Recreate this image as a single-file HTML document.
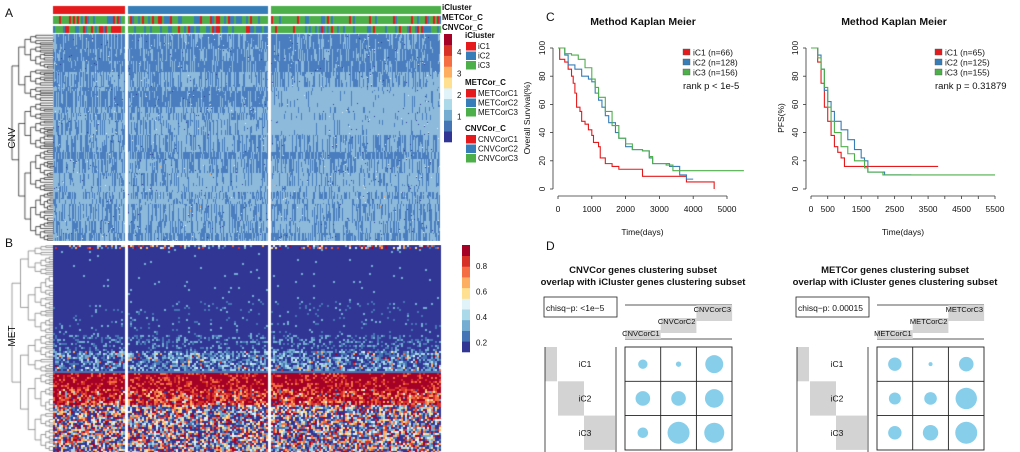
<!DOCTYPE html>
<html><head><meta charset="utf-8">
<style>
html,body{margin:0;padding:0;background:#fff;}
#wrap{position:relative;width:1020px;height:452px;overflow:hidden;font-family:"Liberation Sans",Arial,sans-serif;}
canvas,svg{position:absolute;left:0;top:0;}
</style></head>
<body>
<div id="wrap">
<canvas id="hm" width="1020" height="452"></canvas>
<svg id="sv" width="1020" height="452" xmlns="http://www.w3.org/2000/svg"></svg>
</div>
<script>
// ---------------- chart data ----------------
const osTicks=[0,1000,2000,3000,4000,5000];
const pfsTicks=[0,500,1000,1500,2000,2500,3000,3500,4000,4500,5000,5500];
const pfsTickLabels=["0","500","","1500","","2500","","3500","","4500","","5500"];
const yTicks=[0,20,40,60,80,100];
const osGroups=["iC1 (n=66)","iC2 (n=128)","iC3 (n=156)"];
const pfsGroups=["iC1 (n=65)","iC2 (n=125)","iC3 (n=155)"];
const osC1T=[0,50,200,300,400,450,500,550,650,700,800,900,1000,1050,1200,1250,1400,1600,1800,2500,3800,4620];
const osC1S=[100,92,90,85,80,75,68,58,55,48,46,42,38,33,30,22,18,16,14,9,5,0];
const osC2T=[0,200,300,500,700,900,1000,1100,1200,1300,1400,1500,1700,1800,2000,2200,2500,2700,2800,3300,3600,3800,4000];
const osC2S=[100,95,88,85,80,78,76,68,63,58,52,47,40,36,30,28,27,22,18,16,10,7,7];
const osC3T=[0,200,400,600,800,1000,1100,1200,1400,1600,1800,2000,2200,2500,2700,2800,3200,3400,5500];
const osC3S=[100,96,95,92,86,78,72,65,55,45,36,32,28,27,23,18,17,13,13];
const pfC1T=[0,150,200,300,400,500,600,700,800,900,1000,3800];
const pfC1S=[100,100,90,75,58,48,38,30,26,22,16,16];
const pfC2T=[0,200,300,400,500,600,700,900,1100,1300,1500,1600,1700,2200,3000];
const pfC2S=[100,95,85,70,62,55,48,42,35,28,22,20,12,10,10];
const pfC3T=[0,200,300,400,500,600,700,900,1100,1300,1600,1700,2150,5500];
const pfC3S=[100,93,85,72,58,48,40,30,25,20,15,12,10,10];
const rowLabels=["iC1","iC2","iC3"];
const cnvCols=["CNVCorC1","CNVCorC2","CNVCorC3"];
const metCols=["METCorC1","METCorC2","METCorC3"];
const cnvOverlap=[[4.7,2.7,9],[7.3,7.3,9.3],[5.3,11,10]];
const metOverlap=[[6.7,2,7.3],[6,6.3,10.7],[6.7,7.7,11]];
const palette=["#313695","#4575b4","#74add1","#abd9e9","#e0f3f8","#fee090","#fdae61","#f46d43","#d73027","#a50026"];
const cnvTickLabels=["4","3","2","1"];
const metTickLabels=["0.8","0.6","0.4","0.2"];
// ---------------- heatmaps (canvas, texture) ----------------
let seed=12345;function rnd(){seed=(seed*1103515245+12345)%2147483648;return seed/2147483648;}
const cv=document.getElementById('hm');const ctx=cv.getContext('2d');
const groupsX=[[53,125],[128,268],[271,440]];
const cols=[];groupsX.forEach((g,gi)=>{for(let x=g[0];x<g[1];x+=2)cols.push([x,gi]);});
const cl=["#e41a1c","#377eb8","#4daf4a"];
cols.forEach(([x,g])=>{
 ctx.fillStyle=cl[g];ctx.fillRect(x,6,2,8);
 let r=rnd();let c=g==0?(r<0.35?0:r<0.45?1:2):g==1?(r<0.2?0:r<0.45?1:2):(r<0.1?0:r<0.25?1:2);
 ctx.fillStyle=cl[c];ctx.fillRect(x,16,2,8);
 r=rnd();c=g==0?(r<0.3?0:r<0.4?1:2):g==1?(r<0.2?0:r<0.5?1:2):(r<0.1?0:r<0.35?1:2);
 ctx.fillStyle=cl[c];ctx.fillRect(x,26,2,7);
});
// CNV: blocky bands with vertical streaks
const dk="#4a7dbf",lt="#8dbadb";
const pixCols=[];groupsX.forEach((g,gi)=>{for(let x=g[0];x<g[1];x++)pixCols.push([x,gi]);});
let y=34;
while(y<241){
 const h=Math.min(241-y,4+Math.floor(rnd()*14));
 let p=y<60?0.2:y<80?0.35:y<135?0.45:y<165?0.4:y<210?0.7:0.55;
 p=Math.max(0.05,Math.min(0.95,p+(rnd()-0.5)*0.5));
 pixCols.forEach(([x,g])=>{
  let pp=p; if(g==2&&y>78&&y<135)pp=0.92;
  let state=rnd()<pp;
  for(let yy=y;yy<y+h;yy++){
   if(rnd()<0.08)state=rnd()<pp;
   let c=state?lt:dk;
   const q=rnd();
   if(q<0.004)c="#2c3d93";else if(q<0.006)c="#e0f3f8";else if(q<0.0075&&yy>165&&yy<215)c="#fdae61";
   ctx.fillStyle=c;ctx.fillRect(x,yy,1,1);
  }
 });
 y+=h;
}
// MET
for(let y=245;y<452;y+=2){
 cols.forEach(([x,g])=>{
  let q=rnd(),idx;
  if(y<248){idx=q<0.6?0:Math.floor(rnd()*10);}
  else if(y<300){idx=q<0.985?0:2;}
  else if(y<335){idx=q<0.93?0:(q<0.97?1:2);}
  else if(y<350){idx=q<0.7?0:q<0.85?1:2;}
  else if(y<370){idx=q<0.35?0:q<0.55?1:q<0.75?2:q<0.9?3:Math.floor(rnd()*10);}
  else if(y<372){idx=1;}
  else if(y<388){idx=q<0.7?9:q<0.85?8:7;}
  else if(y<405){idx=q<0.4?9:q<0.6?8:q<0.75?7:q<0.85?6:Math.floor(rnd()*10);}
  else {idx=Math.floor(rnd()*10);if(rnd()<0.2)idx=0;}
  ctx.fillStyle=palette[idx];ctx.fillRect(x,y,2,2);
 });
}
// dendrograms
function dendro(y0,y1,xl,xr,color,depth){
 ctx.strokeStyle=color;ctx.lineWidth=0.7;
 function rec(a,b,d){
  if(d==0||b-a<3){ctx.beginPath();ctx.moveTo(xr-2,(a+b)/2);ctx.lineTo(xr,(a+b)/2);ctx.stroke();return [(a+b)/2,xr-2];}
  const m=a+(b-a)*(0.3+rnd()*0.4);
  const L=rec(a,m,d-1),R=rec(m,b,d-1);
  const h=xr-(xr-xl)*Math.pow(d/depth,1.6)-2;
  ctx.beginPath();ctx.moveTo(L[1],L[0]);ctx.lineTo(h,L[0]);ctx.lineTo(h,R[0]);ctx.lineTo(R[1],R[0]);ctx.stroke();
  return [(L[0]+R[0])/2,h];
 }
 rec(y0,y1,depth);
}
dendro(34,241,14,53,"#111",9);
dendro(245,452,14,53,"#777",7);
// ---------------- SVG ----------------
const NS="http://www.w3.org/2000/svg";const sv=document.getElementById('sv');
function el(t,a,p){const e=document.createElementNS(NS,t);for(const k in a)e.setAttribute(k,a[k]);(p||sv).appendChild(e);return e;}
function tx(x,y,s,o,p){const e=el('text',Object.assign({x:x,y:y,'font-size':9,fill:'#111'},o||{}),p);e.textContent=s;return e;}
el('rect',{x:0,y:241,width:441,height:4,fill:'#fff'});
[["A",5,17],["B",5,247],["C",546,21],["D",546,250]].forEach(([s,x,y])=>{const t=tx(x,y,s,{'font-size':12});});
const t1=tx(15,138,"CNV",{'font-size':10,transform:'rotate(-90 15 138)','text-anchor':'middle'});
const t2=tx(15,336,"MET",{'font-size':10,transform:'rotate(-90 15 336)','text-anchor':'middle'});
[["iCluster",10],["METCor_C",20],["CNVCor_C",30]].forEach(([s,y])=>{const t=tx(442,y,s,{'font-size':8,'font-weight':'bold'});});
function colorbar(x,y0,y1,labels,lx,ly0,ldy,name){
 const g=el('g',{});
 const h=(y1-y0)/10;
 palette.forEach((c,i)=>el('rect',{x:x,y:y1-(i+1)*h,width:8,height:h+0.3,fill:c},g));
 labels.forEach((s,i)=>tx(lx,ly0+i*ldy,s,{'font-size':8},g));
}
colorbar(444,34,142,cnvTickLabels,457,55,21.5,'cnv-colorbar');
colorbar(462,245,352,metTickLabels,476,269,25.5,'met-colorbar');
function legend(title,items,y){
 const g=el('g',{});
 tx(465,y,title,{'font-size':8,'font-weight':'bold'},g);
 items.forEach((s,i)=>{el('rect',{x:466,y:y+4+i*9.5,width:10,height:8.5,fill:cl[i]},g);tx(478,y+11+i*9.5,s,{'font-size':8},g);});
}
legend("iCluster",["iC1","iC2","iC3"],38);
legend("METCor_C",["METCorC1","METCorC2","METCorC3"],85);
legend("CNVCor_C",["CNVCorC1","CNVCorC2","CNVCorC3"],131);
// KM plots
function km(x0,x1,tmax,ticks,tlabels,ylab,ylx,groups,series,ptext,lx,tcx,name){
 const g=el('g',{});
 const X=t=>x0+(x1-x0)*t/tmax, Y=s=>189-s*1.41;
 tx(tcx,25,"Method Kaplan Meier",{'font-size':10.5,'font-weight':'bold','text-anchor':'middle'},g);
 el('line',{x1:X(0),x2:X(ticks[ticks.length-1]),y1:196,y2:196,stroke:'#333','stroke-width':0.8},g);
 ticks.forEach((t,i)=>{el('line',{x1:X(t),x2:X(t),y1:196,y2:199,stroke:'#333','stroke-width':0.8},g);if(tlabels[i])tx(X(t),212,tlabels[i],{'font-size':8.5,'text-anchor':'middle'},g);});
 const ax=x0-5;
 el('line',{x1:ax,x2:ax,y1:Y(0),y2:Y(100),stroke:'#333','stroke-width':0.8},g);
 yTicks.forEach(v=>{el('line',{x1:ax,x2:ax-3,y1:Y(v),y2:Y(v),stroke:'#333','stroke-width':0.8},g);tx(ax-8,Y(v),String(v),{'font-size':8.5,'text-anchor':'middle',transform:`rotate(-90 ${ax-8} ${Y(v)})`},g);});
 tx((X(0)+X(tmax))/2,235,"Time(days)",{'font-size':8.5,'text-anchor':'middle'},g);
 tx(ylx,118,ylab,{'font-size':8.5,'text-anchor':'middle',transform:`rotate(-90 ${ylx} 118)`},g);
 series.forEach(([T,S],k)=>{
  let d=`M${X(T[0])},${Y(S[0])}`;for(let i=1;i<T.length;i++)d+=` H${X(T[i])} V${Y(S[i])}`;
  const p=el('path',{d:d,fill:'none',stroke:cl[k],'stroke-width':1.1},g);
  
 });
 groups.forEach((s,i)=>{el('rect',{x:lx,y:49+i*10,width:7,height:6,fill:cl[i],stroke:'#555','stroke-width':0.4},g);tx(lx+10,55.5+i*10,s,{'font-size':8.5},g);});
 tx(lx,89,ptext,{'font-size':9.5},g);
}
km(558,727,5000,osTicks,osTicks.map(String),"Overall Survival(%)",530,osGroups,[[osC1T,osC1S],[osC2T,osC2S],[osC3T,osC3S]],"rank p < 1e-5",683,643,'os-km');
km(811,995,5500,pfsTicks,pfsTickLabels,"PFS(%)",784,pfsGroups,[[pfC1T,pfC1S],[pfC2T,pfC2S],[pfC3T,pfC3S]],"rank p = 0.31879",935,894,'pfs-km');
// balloon plots
function balloon(ox,cnames,vals,ptext,title1,name){
 const g=el('g',{});
 const cx=ox+18;
 tx(cx,273,title1,{'font-size':9.5,'font-weight':'bold','text-anchor':'middle'},g);
 tx(cx,285,"overlap with iCluster genes clustering subset",{'font-size':9.5,'font-weight':'bold','text-anchor':'middle'},g);
 el('rect',{x:ox-81,y:297,width:73,height:20,fill:'#fff',stroke:'#222','stroke-width':0.8},g);
 tx(ox-79,311,ptext,{'font-size':8.5},g);
 el('line',{x1:ox,x2:ox+107,y1:305,y2:305,stroke:'#222','stroke-width':0.8},g);
 el('line',{x1:ox,x2:ox+107,y1:339,y2:339,stroke:'#222','stroke-width':0.8},g);
 const bw=35.7;
 [[330,339],[318,333],[305,321]].forEach(([a,b],i)=>el('rect',{x:ox+i*bw,y:a,width:bw,height:b-a,fill:'#d3d3d3'},g));
 cnames.forEach((s,i)=>tx(ox+(i+1)*bw-1,[336,324,312][i],s,{'font-size':7.5,'text-anchor':'end'},g));
 const bh=34.3;
 [[ox-80,ox-68],[ox-67,ox-41],[ox-41,ox-10]].forEach(([a,b],i)=>el('rect',{x:a,y:347+i*bh,width:b-a,height:bh,fill:'#d3d3d3'},g));
 el('line',{x1:ox-80,x2:ox-80,y1:347,y2:452,stroke:'#222','stroke-width':0.8},g);
 el('line',{x1:ox-9,x2:ox-9,y1:347,y2:452,stroke:'#222','stroke-width':0.8},g);
 rowLabels.forEach((s,i)=>tx(ox-40,347+i*bh+bh/2+3,s,{'font-size':8.5,'text-anchor':'middle'},g));
 el('rect',{x:ox,y:347,width:107,height:103,fill:'none',stroke:'#222','stroke-width':0.9},g);
 for(let i=1;i<3;i++){el('line',{x1:ox+i*bw,x2:ox+i*bw,y1:347,y2:450,stroke:'#222','stroke-width':0.9},g);el('line',{x1:ox,x2:ox+107,y1:347+i*bh,y2:347+i*bh,stroke:'#222','stroke-width':0.9},g);}
 vals.forEach((row,r)=>row.forEach((v,c)=>{const b=el('circle',{cx:ox+c*bw+bw/2,cy:347+r*bh+bh/2,r:v,fill:'#87ceeb'},g);}));
}
balloon(625,cnvCols,cnvOverlap,"chisq\u2212p: <1e\u22125","CNVCor genes clustering subset",'cnv-overlap-plot');
balloon(877,metCols,metOverlap,"chisq\u2212p: 0.00015","METCor genes clustering subset",'met-overlap-plot');
</script>
</body></html>
